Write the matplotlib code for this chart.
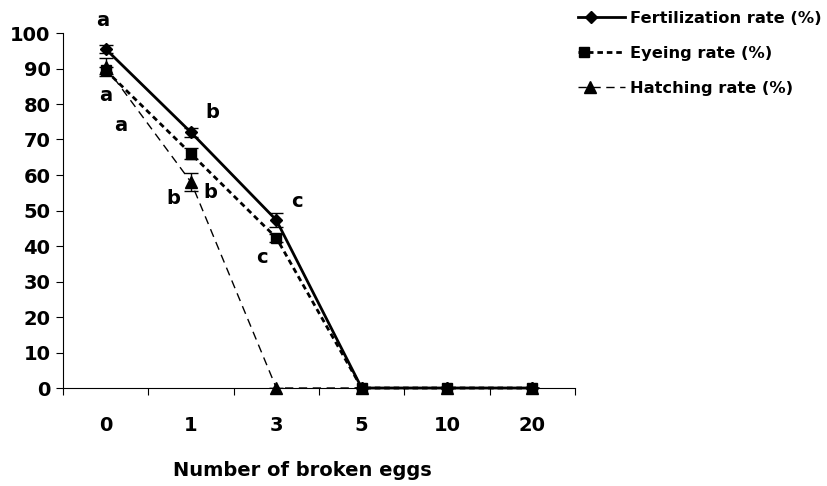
import matplotlib
matplotlib.use("Agg")
import matplotlib.pyplot as plt
from matplotlib.legend_handler import HandlerLine2D
from matplotlib.lines import Line2D
import numpy as np

# categories on the x axis (number of broken eggs)
broken_eggs = ["0", "1", "3", "5", "10", "20"]

# rates (%)
fertilization = [95.5, 72, 47.3, 0, 0, 0]
eyeing = [89.5, 66, 42.3, 0, 0, 0]
hatching = [90.5, 58, 0, 0, 0, 0]

# error bars
fert_err = [1, 1.2, 1.9, 0, 0, 0]
eye_err = [1, 1.5, 1.2, 0, 0, 0]
hatch_err = [2.5, 2.5, 0, 0, 0, 0]

# significance letters: (text, x index, y value)
letters = ["a", "a", "a", "b", "b", "b", "c", "c"]
letter_x = [-0.03, 0.0, 0.18, 1.25, 0.79, 1.23, 2.24, 1.83]
letter_y = [103.5, 82.5, 74, 77.5, 53.5, 55.2, 52.4, 36.9]


class MarkerLeft(HandlerLine2D):
    # excel style legend: marker sits near the left end of the line
    def __init__(self, frac, **kw):
        super().__init__(**kw)
        self.frac = frac

    def create_artists(self, legend, orig_handle, xdescent, ydescent,
                       width, height, fontsize, trans):
        x0 = -xdescent
        y = (height - ydescent) / 2
        line = Line2D([x0, x0 + self.frac * width, x0 + width], [y, y, y])
        self.update_prop(line, orig_handle, legend)
        line.set_markevery([1])
        line.set_transform(trans)
        return [line]


plt.rcParams['font.family'] = ['DejaVu Sans']
plt.rcParams['font.weight'] = 'bold'

fig = plt.figure(figsize=(8.28, 4.86), dpi=100)
ax = fig.add_axes([63/828, 1-388/486, 512/828, 355/486])

x = np.arange(len(broken_eggs))

# lines
h_line, = ax.plot(x, hatching, color='black', lw=1, ls=(0, (6, 4)),
                  marker='^', ms=8, label='Hatching rate (%)', clip_on=False, zorder=3)
f_line, = ax.plot(x, fertilization, color='black', lw=2, ls='-',
                  marker='D', ms=6, label='Fertilization rate (%)', clip_on=False, zorder=4)
e_line, = ax.plot(x, eyeing, color='black', lw=2, ls=(0, (2, 1.4)),
                  marker='s', ms=6.5, label='Eyeing rate (%)', clip_on=False, zorder=5)

# error bars
for vals, err in [(fertilization, fert_err), (eyeing, eye_err), (hatching, hatch_err)]:
    ax.errorbar(x, vals, yerr=err, fmt='none', ecolor='black', elinewidth=1,
                capsize=5, capthick=1, zorder=6)

for t, lx, ly in zip(letters, letter_x, letter_y):
    ax.text(lx, ly, t, ha='center', va='center', fontsize=14, fontweight='bold',
            clip_on=False)

ax.set_xlim(-0.5, len(broken_eggs) - 0.5)
ax.set_ylim(0, 100)
ax.set_yticks(np.arange(0, 101, 10))
ax.set_xticks(x)
ax.set_xticklabels(broken_eggs)
ax.set_xticks(np.arange(-0.5, len(broken_eggs)), minor=True)
ax.tick_params(axis='x', which='major', length=0, pad=20, labelsize=14)
ax.tick_params(axis='x', which='minor', length=5, width=0.8, direction='out')
ax.tick_params(axis='y', length=5, width=0.8, direction='out', pad=4, labelsize=14)

for s in ['top', 'right']:
    ax.spines[s].set_visible(False)
for s in ['left', 'bottom']:
    ax.spines[s].set_linewidth(0.8)

ax.set_xlabel('Number of broken eggs', fontsize=14, fontweight='bold')
ax.xaxis.set_label_coords(0.467, -0.205)

fig.legend(handles=[f_line, e_line, h_line], loc='upper left',
           bbox_to_anchor=(578/828, 1-11/486), frameon=False, fontsize=11.7,
           handlelength=2.9, handletextpad=0.3, labelspacing=1.22,
           borderaxespad=0, borderpad=0,
           handler_map={f_line: MarkerLeft(0.28), e_line: MarkerLeft(0.12),
                        h_line: MarkerLeft(0.25)})

fig.savefig('out.png', dpi=100)
